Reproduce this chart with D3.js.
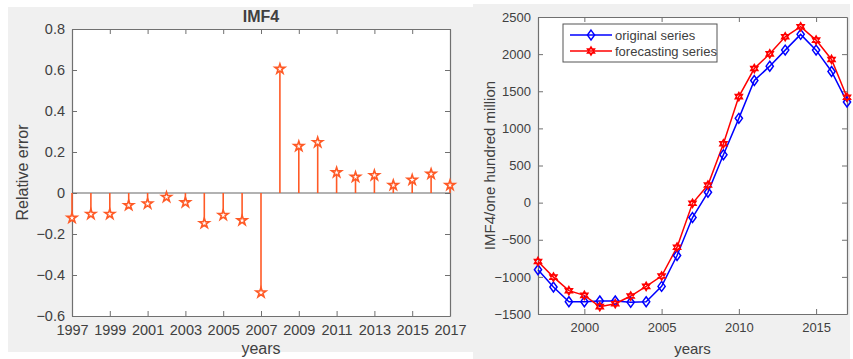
<!DOCTYPE html>
<html>
<head>
<meta charset="utf-8">
<script src="https://cdn.jsdelivr.net/npm/d3@7"></script>
<style>
  body { margin: 0; background: #fff; }
  text { font-family: "Liberation Sans", Arial, sans-serif; fill: #404040; }
  .axis path, .axis line { stroke: #707070; }
  .axis text { fill: #404040; }
</style>
</head>
<body>
<svg id="chart" width="853" height="359"></svg>
<script>
// left panel: relative error of IMF4
var errYears = d3.range(1997, 2018);
var relErr = [-0.122, -0.103, -0.103, -0.06, -0.052, -0.02, -0.046, -0.148, -0.108, -0.134,
              -0.486, 0.605, 0.228, 0.247, 0.10, 0.078, 0.086, 0.038, 0.064, 0.093, 0.038];
var errTicksY = [-0.6, -0.4, -0.2, 0, 0.2, 0.4, 0.6, 0.8];
var errTicksX = [1997, 1999, 2001, 2003, 2005, 2007, 2009, 2011, 2013, 2015, 2017];

// right panel: original vs forecasting series
var years = d3.range(1997, 2018);
var original = [-904, -1137, -1334, -1334, -1325, -1325, -1343, -1334, -1128, -712,
                -201, 139, 644, 1135, 1644, 1838, 2054, 2266, 2054, 1766, 1356];
var forecast = [-792, -1003, -1186, -1249, -1401, -1361, -1258, -1128, -989, -600,
                -9, 237, 793, 1428, 1806, 2004, 2234, 2369, 2189, 1928, 1419];
var seriesTicksY = [-1500, -1000, -500, 0, 500, 1000, 1500, 2000, 2500];
var seriesTicksX = [2000, 2005, 2010, 2015];

var svg = d3.select("#chart");

// gray figure backgrounds
svg.append("rect").attr("x", 8).attr("y", 7).attr("width", 465).attr("height", 345).attr("fill", "#f0f0f0");
svg.append("rect").attr("x", 473).attr("y", 4).attr("width", 377).attr("height", 355).attr("fill", "#f0f0f0");

function frame(g, x, y, w, h, xt, yt, fmtX, fmtY, fs) {
    g.append("rect").attr("x", x).attr("y", y).attr("width", w).attr("height", h).attr("fill", "#fff");
    var xs = xt.scale, ys = yt.scale;
    g.append("g").attr("class", "axis").attr("transform", "translate(0," + (y + h) + ")")
        .call(d3.axisBottom(xs).tickValues(xt.values).tickSizeInner(-5).tickSizeOuter(0).tickPadding(9).tickFormat(fmtX));
    g.append("g").attr("class", "axis").attr("transform", "translate(0," + y + ")")
        .call(d3.axisTop(xs).tickValues(xt.values).tickSizeInner(-5).tickSizeOuter(0).tickFormat(""));
    g.append("g").attr("class", "axis").attr("transform", "translate(" + x + ",0)")
        .call(d3.axisLeft(ys).tickValues(yt.values).tickSizeInner(-5).tickSizeOuter(0).tickPadding(7).tickFormat(fmtY));
    g.append("g").attr("class", "axis").attr("transform", "translate(" + (x + w) + ",0)")
        .call(d3.axisRight(ys).tickValues(yt.values).tickSizeInner(-5).tickSizeOuter(0).tickFormat(""));
    g.selectAll(".axis text").attr("font-size", fs).attr("font-family", "Liberation Sans, Arial, sans-serif");
    g.selectAll(".axis path").attr("stroke-width", 1.2);
    return g;
}

// ---------- left plot ----------
var L = {x: 72, y: 29, w: 378, h: 287};
var xL = d3.scaleLinear().domain([1997, 2017]).range([L.x, L.x + L.w]);
var yL = d3.scaleLinear().domain([-0.6, 0.8]).range([L.y + L.h, L.y]);
var gL = svg.append("g");
frame(gL, L.x, L.y, L.w, L.h, {scale: xL, values: errTicksX}, {scale: yL, values: errTicksY},
      d3.format("d"), function(d) { return d === 0 ? "0" : d3.format(".1f")(d); }, "14.5px");

var stemColor = "#ff5a26";
gL.append("line").attr("x1", L.x).attr("x2", L.x + L.w).attr("y1", yL(0)).attr("y2", yL(0))
    .attr("stroke", "#666").attr("stroke-width", 1.2);
gL.selectAll(".stem").data(relErr).enter().append("line")
    .attr("x1", function(d, i) { return xL(errYears[i]); })
    .attr("x2", function(d, i) { return xL(errYears[i]); })
    .attr("y1", yL(0))
    .attr("y2", function(d) { return yL(d); })
    .attr("stroke", stemColor).attr("stroke-width", 1.6);
var star = d3.symbol().type(d3.symbolStar).size(30);
gL.selectAll(".star").data(relErr).enter().append("path")
    .attr("d", star)
    .attr("transform", function(d, i) { return "translate(" + xL(errYears[i]) + "," + yL(d) + ")"; })
    .attr("fill", "#fff").attr("stroke", stemColor).attr("stroke-width", 1.6);

svg.append("text").attr("x", L.x + L.w / 2).attr("y", 22).attr("text-anchor", "middle")
    .attr("font-size", "16px").attr("font-weight", "bold").text("IMF4");
svg.append("text").attr("x", L.x + L.w / 2).attr("y", 354).attr("text-anchor", "middle")
    .attr("font-size", "16px").text("years");
svg.append("text").attr("transform", "translate(28," + (L.y + L.h / 2) + ") rotate(-90)")
    .attr("text-anchor", "middle").attr("font-size", "16px").text("Relative error");

// ---------- right plot ----------
var R = {x: 538, y: 17, w: 309, h: 297};
var xR = d3.scaleLinear().domain([1997, 2017]).range([R.x, R.x + R.w]);
var yR = d3.scaleLinear().domain([-1500, 2500]).range([R.y + R.h, R.y]);
var gR = svg.append("g");
frame(gR, R.x, R.y, R.w, R.h, {scale: xR, values: seriesTicksX}, {scale: yR, values: seriesTicksY},
      d3.format("d"), d3.format("d"), "13px");

var line = d3.line().x(function(d, i) { return xR(years[i]); }).y(function(d) { return yR(d); });

function diamond(s) {
    return "M0," + (-s * 0.55) + "L" + (s * 0.4) + ",0L0," + (s * 0.55) + "L" + (-s * 0.4) + ",0Z";
}
function hexagram(r) {
    var p = "";
    [-90, 90].forEach(function(a0) {
        for (var k = 0; k < 3; k++) {
            var a = (a0 + k * 120) * Math.PI / 180;
            p += (k === 0 ? "M" : "L") + (r * Math.cos(a)).toFixed(2) + "," + (r * Math.sin(a)).toFixed(2);
        }
        p += "Z";
    });
    return p;
}

gR.append("path").datum(original).attr("d", line).attr("fill", "none")
    .attr("stroke", "#0000ff").attr("stroke-width", 1.5);
gR.append("path").datum(forecast).attr("d", line).attr("fill", "none")
    .attr("stroke", "#ff0000").attr("stroke-width", 1.5);
gR.selectAll(".dia").data(original).enter().append("path")
    .attr("d", diamond(9))
    .attr("transform", function(d, i) { return "translate(" + xR(years[i]) + "," + yR(d) + ")"; })
    .attr("fill", "none").attr("stroke", "#0000ff").attr("stroke-width", 1.5);
gR.selectAll(".hex").data(forecast).enter().append("path")
    .attr("d", hexagram(4.2))
    .attr("transform", function(d, i) { return "translate(" + xR(years[i]) + "," + yR(d) + ")"; })
    .attr("fill", "none").attr("stroke", "#ff0000").attr("stroke-width", 1.4);

// legend
var leg = gR.append("g");
leg.append("rect").attr("x", 563).attr("y", 24).attr("width", 154).attr("height", 38)
    .attr("fill", "#fff").attr("stroke", "#555").attr("stroke-width", 1);
var legItems = [
    {label: "original series", color: "#0000ff", mark: diamond(9)},
    {label: "forecasting series", color: "#ff0000", mark: hexagram(4.2)}
];
legItems.forEach(function(it, i) {
    var yy = 35 + i * 16;
    leg.append("line").attr("x1", 570).attr("x2", 612).attr("y1", yy).attr("y2", yy)
        .attr("stroke", it.color).attr("stroke-width", 1.5);
    leg.append("path").attr("d", it.mark).attr("transform", "translate(591," + yy + ")")
        .attr("fill", "none").attr("stroke", it.color).attr("stroke-width", 1.4);
    leg.append("text").attr("x", 615).attr("y", yy + 4.5).attr("font-size", "13px").text(it.label);
});

svg.append("text").attr("x", R.x + R.w / 2).attr("y", 354).attr("text-anchor", "middle")
    .attr("font-size", "15px").text("years");
svg.append("text").attr("transform", "translate(495," + (R.y + R.h / 2) + ") rotate(-90)")
    .attr("text-anchor", "middle").attr("font-size", "15px").text("IMF4/one hundred million");
</script>
</body>
</html>
